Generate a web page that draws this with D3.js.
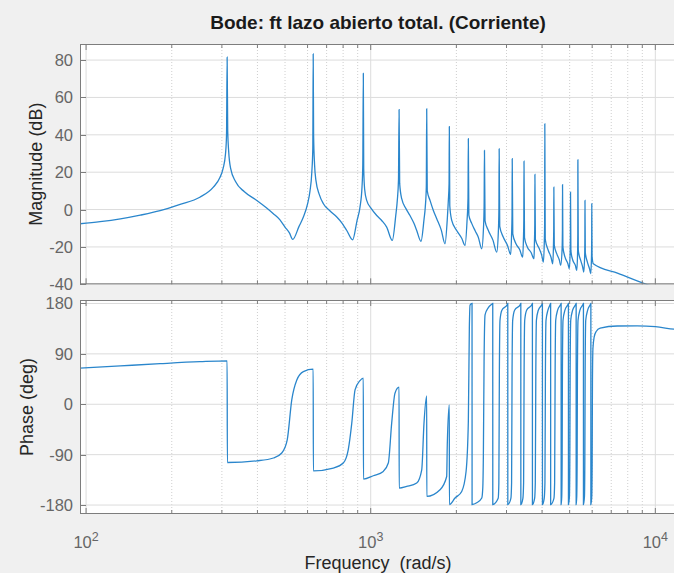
<!DOCTYPE html>
<html>
<head>
<meta charset="utf-8">
<script src="https://cdn.jsdelivr.net/npm/d3@7"></script>
<style>
  body { margin: 0; background: #f0f0f0; }
  text { font-family: Arial, "Liberation Sans", Helvetica, sans-serif; }
</style>
</head>
<body>
<script>
const TITLE = "Bode: ft lazo abierto total. (Corriente)";
const FREQ_TICKS = [100, 1000, 10000];
const MAG_TICKS = [-40, -20, 0, 20, 40, 60, 80];
const PHASE_TICKS = [-180, -90, 0, 90, 180];

// [frequency rad/s, magnitude dB]
const magnitude = [
  [95, -7.6], [112, -6.5], [132, -5], [155, -3], [182, -0.6], [214, 2.8], [251, 6.6],
  [280, 12], [295, 17], [303, 22], [309, 30], [311.5, 40], [313, 81.5], [314.5, 42], [317, 31], [322, 22],
  [335, 15], [360, 9.5], [398, 4.9], [430, 1], [455, -2.2], [480, -5.5], [500, -9.4], [518, -12.5], [532, -16],
  [560, -9], [580, -4], [600, 3], [612, 10], [621, 20], [626, 33], [628, 83.3], [630, 40], [635, 24], [642, 15.6],
  [660, 8], [682, 3.1], [720, -0.8], [760, -4], [795, -7.5], [824, -11.2], [864, -16.2],
  [895, -6], [917, 1.3], [932, 12], [938, 24], [942, 72.9], [945, 22], [952, 11], [968, 4.9],
  [1005, 0.5], [1050, -3.2], [1095, -6], [1138, -9.4], [1191, -16.5],
  [1225, -3], [1240, 4.9], [1252, 16], [1258, 53.5], [1264, 14], [1285, 5.8], [1330, 0.5], [1374, -3.2],
  [1420, -7.5], [1451, -11.2], [1502, -17],
  [1540, -5], [1555, 1.3], [1568, 12], [1573, 53.9], [1580, 10], [1616, 4.9], [1660, -0.5], [1706, -4.9],
  [1770, -11], [1824, -18.3],
  [1860, -4], [1874, 4.9], [1885, 14], [1889, 44.4], [1896, 2], [1926, -5.8], [2005, -11.2], [2090, -15.5], [2145, -19.2],
  [2180, -6], [2197, 6], [2203, 37.9], [2212, -3], [2264, -7.4], [2330, -11.5], [2388, -14.8], [2455, -21],
  [2490, -10], [2503, 2], [2510, 31.6], [2522, -6], [2590, -11.2], [2690, -16.5], [2772, -22.8],
  [2808, -12], [2821, 0], [2827, 32.5], [2840, -9], [2924, -14.8], [3020, -19], [3104, -24],
  [3125, -14], [3137, -3], [3142, 27.2], [3156, -13], [3239, -18.3], [3340, -21.5], [3420, -25.5],
  [3440, -16], [3451, -5], [3456, 25.9], [3470, -15], [3550, -20], [3660, -23], [3748, -26.3],
  [3760, -18], [3771, -8], [3775, 18.8], [3790, -16], [3912, -21], [3990, -24.5], [4042, -28.1],
  [4072, -18], [4085, -6], [4090, 45.9], [4104, -16], [4207, -21.9], [4300, -25.5], [4361, -29],
  [4385, -20], [4396, -10], [4400, 12], [4415, -19], [4503, -23.6], [4600, -27], [4651, -29.9],
  [4704, -21], [4716, -11], [4720, 13.3], [4734, -20], [4816, -25.5], [4930, -29], [4987, -31.7],
  [5020, -23], [5031, -13], [5035, 9.3], [5050, -22], [5125, -27], [5240, -30], [5294, -32.6],
  [5330, -24], [5341, -13], [5345, 26.6], [5362, -22], [5468, -27.2], [5560, -31], [5603, -33.5],
  [5645, -25], [5656, -15], [5660, 4.9], [5675, -23], [5768, -28], [5880, -32], [5929, -34.3],
  [5965, -26], [5976, -16], [5980, 3.1], [5995, -25], [6055, -29], [7400, -34.1], [9201, -39.7], [12200, -45.5]
];

// [frequency rad/s, phase deg]
const phase = [
  [95, 64.4], [132, 68.5], [182, 72.5], [251, 76], [313, 77.5],
  [313.6, -104], [398, -101], [455, -96], [487, -87], [509, -63.5], [528, 7.9], [550, 43.5], [580, 58.4], [628, 62.6],
  [628.8, -119], [739, -114], [801, -105], [834, -81], [858, -33.7], [881, 25.7], [917, 42.3], [942, 46.6],
  [943, -133.6], [1021, -127.7], [1107, -120], [1153, -105], [1185, -33.7], [1217, 19.8], [1258, 30.5],
  [1259, -149.7], [1338, -146.8], [1451, -140.7], [1511, -117], [1539, -33.7], [1573, 15],
  [1574, -164.6], [1752, -152.7], [1849, -129], [1858, -72.4], [1889, -1],
  [1890, -179], [1978, -167.5], [2088, -155.7], [2163, -120], [2203, -30.8], [2221, 135.8], [2234, 177], [2270, 180],
  [2271, -179], [2358, -176], [2456, -167.5], [2476, -149.7], [2488, -90], [2502, 76], [2522, 159.5], [2590, 172.5], [2663, 178.5], [2684, 180],
  [2685, -179], [2805, -168], [2820, -140], [2832, 60], [2846, 150], [2890, 168], [3019, 178], [3031, 180],
  [3032, -179], [3108, -168], [3126, -140], [3138, 60], [3154, 150], [3203, 168], [3354, 178], [3368, 180],
  [3369, -179], [3425, -168], [3445, -140], [3459, 60], [3476, 150], [3530, 168], [3684, 178], [3699, 180],
  [3700, -179], [3766, -168], [3787, -140], [3803, 60], [3821, 150], [3880, 168], [3995, 178], [4011, 180],
  [4012, -179], [4070, -168], [4094, -140], [4110, 60], [4130, 150], [4194, 168], [4270, 178], [4287, 180],
  [4288, -179], [4403, -168], [4428, -140], [4446, 60], [4467, 150], [4537, 168], [4648, 178], [4667, 180],
  [4668, -179], [4690, -165], [4705, -100], [4716, 60], [4739, 150], [4813, 168], [4931, 178], [4951, 180],
  [4952, -179], [4991, -165], [5007, -100], [5020, 60], [5044, 150], [5122, 168], [5248, 178], [5270, 180],
  [5271, -179], [5295, -165], [5312, -100], [5325, 60], [5351, 150], [5434, 168], [5568, 178], [5590, 180],
  [5591, -179], [5636, -165], [5654, -100], [5668, 60], [5695, 150], [5784, 168], [5912, 178], [5936, 180],
  [5937, -179], [5979, -165], [5999, -100], [6013, 40], [6037, 100], [6096, 120], [6196, 130], [6400, 136],
  [7344, 139.8], [8636, 140], [10000, 138.5], [11635, 134], [12200, 133]
];

const width = 674;
const height = 573;
const left = 80, right = 676;

const x = d3.scaleLog().domain([95.2, 11820]).range([left, right]);
const minorTicks = x.ticks().filter(d => FREQ_TICKS.indexOf(d) === -1);

const svg = d3.select("body").append("svg")
  .attr("width", width)
  .attr("height", height);

svg.append("text")
  .attr("x", 378)
  .attr("y", 29)
  .attr("text-anchor", "middle")
  .attr("font-size", 19)
  .attr("font-weight", "bold")
  .attr("fill", "#1a1a1a")
  .text(TITLE);

const panel = (id, y, yTicks, data, label, labelX) => {
  const [y0, y1] = y.range();
  const g = svg.append("g").attr("id", id);

  g.append("rect")
    .attr("x", left).attr("y", y1)
    .attr("width", right - left).attr("height", y0 - y1)
    .attr("fill", "#fff");

  // grid
  g.append("g").selectAll("line")
    .data(minorTicks)
    .enter().append("line")
    .attr("x1", d => x(d)).attr("x2", d => x(d))
    .attr("y1", y1).attr("y2", y0)
    .attr("stroke", "#cfcfcf")
    .attr("stroke-dasharray", "1,2");
  g.append("g").selectAll("line")
    .data(FREQ_TICKS)
    .enter().append("line")
    .attr("x1", d => x(d)).attr("x2", d => x(d))
    .attr("y1", y1).attr("y2", y0)
    .attr("stroke", "#dcdcdc");
  g.append("g").selectAll("line")
    .data(yTicks)
    .enter().append("line")
    .attr("x1", left).attr("x2", right)
    .attr("y1", d => y(d)).attr("y2", d => y(d))
    .attr("stroke", "#dcdcdc");

  // curve
  g.append("clipPath").attr("id", "clip-" + id)
    .append("rect")
    .attr("x", left).attr("y", y1)
    .attr("width", right - left).attr("height", y0 - y1);
  const line = d3.line()
    .x(d => x(d[0]))
    .y(d => y(d[1]))
    .curve(d3.curveMonotoneX);
  g.append("path")
    .attr("clip-path", `url(#clip-${id})`)
    .attr("d", line(data))
    .attr("fill", "none")
    .attr("stroke", "#2a86cc")
    .attr("stroke-width", 1.3);

  // box and ticks
  const ax = g.append("g").attr("stroke", "#7d7d7d").attr("fill", "none");
  ax.append("rect")
    .attr("x", left + 0.5).attr("y", y1 + 0.5)
    .attr("width", right - left).attr("height", y0 - y1 - 1);
  [y0, y1].forEach(edge => {
    const dir = edge === y0 ? -1 : 1;
    ax.selectAll(null)
      .data(FREQ_TICKS.concat(minorTicks))
      .enter().append("line")
      .attr("x1", d => x(d)).attr("x2", d => x(d))
      .attr("y1", edge).attr("y2", d => edge + dir * (FREQ_TICKS.indexOf(d) === -1 ? 4 : 6));
  });
  ax.selectAll(null)
    .data(yTicks)
    .enter().append("line")
    .attr("x1", left).attr("x2", left + 6)
    .attr("y1", d => Math.round(y(d)) + 0.5).attr("y2", d => Math.round(y(d)) + 0.5);

  g.append("g").selectAll("text")
    .data(yTicks)
    .enter().append("text")
    .attr("x", left - 7)
    .attr("y", d => y(d) + 6)
    .attr("text-anchor", "end")
    .attr("font-size", 16.5)
    .attr("fill", "#666")
    .text(d => d);

  g.append("text")
    .attr("transform", `translate(${labelX},${(y0 + y1) / 2}) rotate(-90)`)
    .attr("text-anchor", "middle")
    .attr("font-size", 18)
    .attr("fill", "#262626")
    .text(label);
};

const yMag = d3.scaleLinear().domain([-40, 88.6]).range([284.3, 44]);
const yPhase = d3.scaleLinear().domain([-196, 186.2]).range([514, 300]);

panel("mag", yMag, MAG_TICKS, magnitude, "Magnitude (dB)", 42);
panel("phase", yPhase, PHASE_TICKS, phase, "Phase (deg)", 33);

// x tick labels
const xl = svg.append("g").selectAll("text")
  .data(FREQ_TICKS)
  .enter().append("text")
  .attr("x", d => x(d))
  .attr("y", 548)
  .attr("text-anchor", "middle")
  .attr("font-size", 16.5)
  .attr("fill", "#666");
xl.append("tspan").text("10");
xl.append("tspan")
  .attr("dy", -7)
  .attr("font-size", 12.5)
  .text(d => Math.round(Math.log10(d)));

svg.append("text")
  .attr("x", 378)
  .attr("y", 569)
  .attr("text-anchor", "middle")
  .attr("font-size", 18)
  .attr("fill", "#262626")
  .attr("xml:space", "preserve")
  .text("Frequency  (rad/s)");
</script>
</body>
</html>
